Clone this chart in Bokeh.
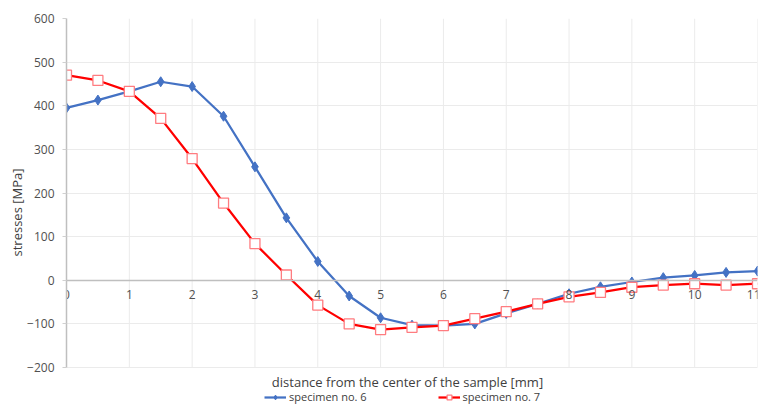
from bokeh.plotting import figure
from bokeh.models import Range1d, FixedTicker, Legend, LegendItem, Label
from bokeh.embed import file_html
from bokeh.resources import INLINE

distance = [0, 0.5, 1, 1.5, 2, 2.5, 3, 3.5, 4, 4.5, 5, 5.5, 6, 6.5, 7, 7.5, 8, 8.5, 9, 9.5, 10, 10.5, 11]
spec6 = [395, 413, 433, 455, 444, 376, 260, 143, 43, -36, -86, -103, -104, -100, -76, -54, -31, -15, -4, 6, 11, 18, 21]
spec7 = [470, 458, 433, 371, 279, 177, 84, 12, -57, -100, -113, -108, -104, -88, -72, -54, -38, -28, -16, -11, -8, -11, -8]
x_ticks = [0, 1, 2, 3, 4, 5, 6, 7, 8, 9, 10, 11]
y_ticks = [-200, -100, 0, 100, 200, 300, 400, 500, 600]
x_title = "distance from the center of the sample [mm]"
y_title = "stresses [MPa]"
names = ["specimen no. 6", "specimen no. 7"]

FONT = "Open Sans"
Y_MIN, Y_MAX = y_ticks[0], y_ticks[-1]
# extra room below the value axis (in data units) that holds the axis title and legend
BOTTOM_PAD = 39 * (Y_MAX - Y_MIN) / 349.0

p = figure(width=760, height=406, output_backend="svg", toolbar_location=None,
           x_range=Range1d(0, 11), y_range=Range1d(Y_MIN - BOTTOM_PAD, Y_MAX),
           min_border_left=66, min_border_right=3, min_border_top=18, min_border_bottom=0)
p.outline_line_color = None
p.background_fill_color = "white"
p.border_fill_color = "white"

# grid
p.xgrid.visible = False
p.ygrid.ticker = FixedTicker(ticks=y_ticks)
p.ygrid.grid_line_color = "#EBEBEB"
p.ygrid.grid_line_width = 1
p.segment(x0=x_ticks, y0=[Y_MIN] * len(x_ticks), x1=x_ticks, y1=[Y_MAX] * len(x_ticks),
          line_color="#EBEBEB", line_width=1)

# x axis at y = 0
xa = p.xaxis[0]
xa.ticker = FixedTicker(ticks=x_ticks)
xa.fixed_location = 0
xa.axis_line_color = "#BFBFBF"
xa.axis_line_width = 1.5
xa.major_tick_out = 0
xa.major_tick_in = 0
xa.minor_tick_out = 0
xa.minor_tick_in = 0
xa.major_label_text_font = FONT
xa.major_label_text_font_size = "12px"
xa.major_label_text_color = "#505050"
xa.major_label_standoff = 10

ya = p.yaxis[0]
ya.ticker = FixedTicker(ticks=y_ticks)
ya.bounds = (Y_MIN, Y_MAX)
ya.axis_line_color = "#BFBFBF"
ya.axis_line_width = 1.5
ya.major_tick_out = 4
ya.major_tick_in = 0
ya.major_tick_line_color = "#D0D0D0"
ya.minor_tick_out = 0
ya.minor_tick_in = 0
ya.major_label_text_font = FONT
ya.major_label_text_font_size = "12px"
ya.major_label_text_color = "#505050"
ya.major_label_standoff = 8
ya.axis_label = y_title
ya.axis_label_text_font = FONT
ya.axis_label_text_font_size = "13px"
ya.axis_label_text_font_style = "normal"
ya.axis_label_text_color = "#404040"
ya.axis_label_standoff = -2

# series
l6 = p.line(distance, spec6, line_color="#4472C4", line_width=2.25)
m6 = p.scatter(distance, spec6, marker="diamond", size=10, fill_color="#4472C4", line_color="#4472C4")
l7 = p.line(distance, spec7, line_color="#FF0000", line_width=2.25)
m7 = p.scatter(distance, spec7, marker="square", size=10, fill_color="white", line_color="#FF7C80", line_width=1.3)

t = Label(x=341, y=25, x_units="screen", y_units="screen", text=x_title,
          text_align="center", text_baseline="middle", text_font=FONT, text_font_size="13px",
          text_color="#404040")
p.add_layout(t)

leg = Legend(items=[LegendItem(label=names[0], renderers=[l6, m6]),
                    LegendItem(label=names[1], renderers=[l7, m7])],
             orientation="horizontal", location=(198, 2),
             label_text_font=FONT, label_text_font_size="11px", label_text_color="#404040",
             border_line_color=None, background_fill_alpha=0,
             glyph_width=22, glyph_height=12, label_standoff=3, spacing=71,
             padding=0, margin=0, label_height=12)
p.add_layout(leg, "center")

open("out.html", "w").write(file_html(p, INLINE))
